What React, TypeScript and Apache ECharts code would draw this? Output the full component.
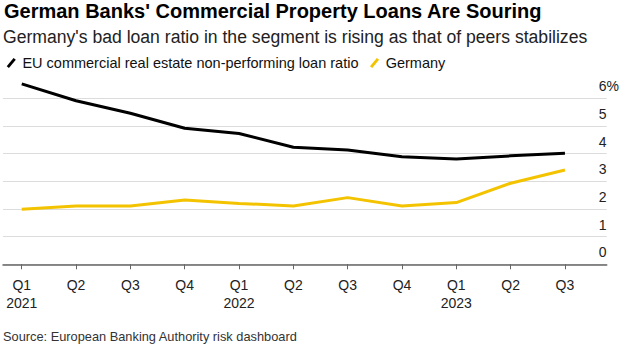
import React, { useEffect, useRef } from "react";
import * as echarts from "echarts";

const quarters = ["Q1\n2021", "Q2", "Q3", "Q4", "Q1\n2022", "Q2", "Q3", "Q4", "Q1\n2023", "Q2", "Q3"];
const euValues = [6.52, 5.91, 5.46, 4.92, 4.73, 4.23, 4.13, 3.89, 3.81, 3.92, 4.01];
const germanyValues = [1.99, 2.11, 2.11, 2.32, 2.2, 2.11, 2.41, 2.11, 2.23, 2.93, 3.41];
const yTicks = [0, 1, 2, 3, 4, 5, 6];

const titleText = "German Banks' Commercial Property Loans Are Souring";
const subtitleText = "Germany's bad loan ratio in the segment is rising as that of peers stabilizes";
const sourceText = "Source: European Banking Authority risk dashboard";

const FONT = "'Liberation Sans', Arial, Helvetica, sans-serif";
const BLACK = "#000000";
const YELLOW = "#f4c300";
const ICON = "path://M0,8.4 L7,0 L9.3,1.8 L2.3,10.2 Z";

export default function App() {
  const ref = useRef<HTMLDivElement>(null);
  useEffect(() => {
    if (!ref.current) return;
    const chart = echarts.init(ref.current, null, { renderer: "svg" });
    const idx = quarters.map((_, i) => i);
    chart.setOption({
      animation: false,
      backgroundColor: "#ffffff",
      title: [
        {
          text: titleText,
          left: 4,
          top: 0.5,
          padding: 0,
          textStyle: { fontFamily: FONT, fontSize: 20, fontWeight: "bold", color: "#000" },
        },
        {
          text: subtitleText,
          left: 3,
          top: 28,
          padding: 0,
          textStyle: { fontFamily: FONT, fontSize: 17.6, fontWeight: "normal", color: "#222" },
        },
        {
          text: sourceText,
          left: 3,
          top: 330,
          padding: 0,
          textStyle: { fontFamily: FONT, fontSize: 12.8, fontWeight: "normal", color: "#333" },
        },
      ],
      legend: {
        left: 6.7,
        top: 55.5,
        itemWidth: 9.3,
        itemHeight: 10,
        itemGap: 11.5,
        padding: [0, 0, 0, 0],
        textStyle: { fontFamily: FONT, fontSize: 14.5, color: "#111", padding: [0, 0, 0, 1.5] },
        data: [
          { name: "EU commercial real estate non-performing loan ratio", icon: ICON, itemStyle: { color: BLACK } },
          { name: "Germany", icon: ICON, itemStyle: { color: YELLOW } },
        ],
      },
      grid: { left: 3, right: 15, top: 98.3, bottom: 82.7, containLabel: false },
      xAxis: {
        type: "value",
        min: -0.345,
        max: 10.77,
        axisLine: { show: true, lineStyle: { color: "#666", width: 1.5 } },
        axisTick: { show: true, length: 5, customValues: idx, lineStyle: { color: "#666", width: 1 } },
        splitLine: { show: false },
        axisLabel: {
          customValues: idx,
          margin: 12,
          fontFamily: FONT,
          fontSize: 14,
          lineHeight: 18,
          color: "#222",
          formatter: (v: number) => quarters[Math.round(v)] ?? "",
        },
      },
      yAxis: {
        type: "value",
        position: "right",
        min: 0,
        max: 6,
        interval: 1,
        axisLine: { show: false },
        axisTick: { show: false },
        splitLine: { show: true, lineStyle: { color: "#dcdcdc", width: 1 } },
        axisLabel: {
          inside: true,
          align: "left",
          verticalAlign: "bottom",
          margin: 8,
          padding: [0, 0, 5, 0],
          fontFamily: FONT,
          fontSize: 14,
          color: "#222",
          customValues: yTicks,
          formatter: (v: number) => (v === 6 ? "6%" : String(v)),
        },
      },
      series: [
        {
          name: "EU commercial real estate non-performing loan ratio",
          type: "line",
          data: euValues.map((v, i) => [i, v]),
          showSymbol: false,
          symbol: "none",
          clip: false,
          lineStyle: { color: BLACK, width: 3 },
          itemStyle: { color: BLACK },
          z: 3,
        },
        {
          name: "Germany",
          type: "line",
          data: germanyValues.map((v, i) => [i, v]),
          showSymbol: false,
          symbol: "none",
          clip: false,
          lineStyle: { color: YELLOW, width: 3 },
          itemStyle: { color: YELLOW },
          z: 2,
        },
      ],
    });
    return () => chart.dispose();
  }, []);
  return <div ref={ref} style={{ width: 622, height: 347, position: "absolute", left: 0, top: 0 }} />;
}
